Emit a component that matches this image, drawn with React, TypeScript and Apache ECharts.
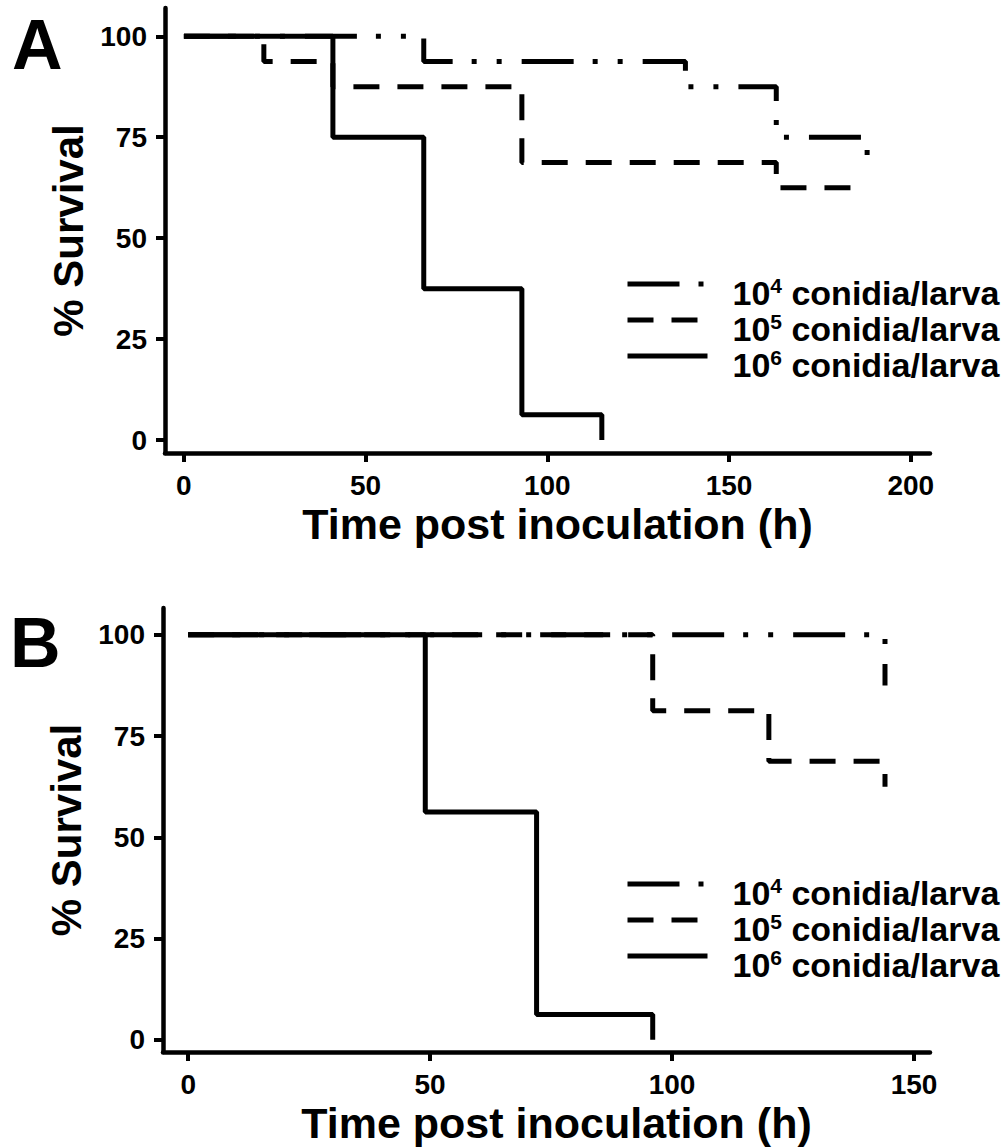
import React, { useEffect, useRef } from 'react';
import * as echarts from 'echarts';

const FONT = "'Liberation Sans', Arial, Helvetica, sans-serif";

// Tick values
const yTicks = [0, 25, 50, 75, 100];
const xTicksA = [0, 50, 100, 150, 200];
const xTicksB = [0, 50, 100, 150];

// Series names (dose groups)
const seriesNames = ['10^4 conidia/larva', '10^5 conidia/larva', '10^6 conidia/larva'];

// Panel A — Kaplan-Meier steps (time in h, % survival)
const timeA4 = [0, 66, 138, 163, 188];
const survA4 = [100, 93.75, 87.5, 75, 68.75];
const timeA5 = [0, 22, 41, 93, 163, 188];
const survA5 = [100, 93.75, 87.5, 68.75, 62.5, 62.5];
const timeA6 = [0, 41, 66, 93, 115];
const survA6 = [100, 75, 37.5, 6.25, 0];

// Panel B
const timeB4 = [0, 144];
const survB4 = [100, 87.5];
const timeB5 = [0, 96, 120, 144];
const survB5 = [100, 81.25, 68.75, 62.5];
const timeB6 = [0, 49, 72, 96];
const survB6 = [100, 56.25, 6.25, 0];

const lineTypes: any[] = [[52, 19, 5, 20, 5, 20], [26, 18], 'solid'];

const pairs = (t: number[], s: number[]) => t.map((v, i) => [v, s[i]]);

function makeAxisX(grid: number, min: number, max: number, ticks: number[]) {
  return {
    type: 'value',
    gridIndex: grid,
    min,
    max,
    name: 'Time post inoculation (h)',
    nameLocation: 'middle',
    nameGap: 49,
    nameTextStyle: { fontSize: 43, fontWeight: 'bold', color: '#000', fontFamily: FONT, padding: [0, 0, 0, 20] },
    axisLine: { show: true, onZero: false, lineStyle: { color: '#000', width: 4.5 } },
    axisTick: { show: true, customValues: ticks, length: 9, lineStyle: { color: '#000', width: 4 } },
    axisLabel: { customValues: ticks, fontSize: 28, fontWeight: 'bold', color: '#000', fontFamily: FONT, margin: 18 },
    splitLine: { show: false },
  };
}

function makeAxisY(grid: number, min: number, max: number) {
  return {
    type: 'value',
    gridIndex: grid,
    min,
    max,
    name: '% Survival',
    nameLocation: 'middle',
    nameGap: 74,
    nameTextStyle: { fontSize: 42, fontWeight: 'bold', color: '#000', fontFamily: FONT },
    axisLine: { show: true, onZero: false, lineStyle: { color: '#000', width: 4.5 } },
    axisTick: { show: true, customValues: yTicks, length: 9, lineStyle: { color: '#000', width: 4 } },
    axisLabel: { customValues: yTicks, fontSize: 28, fontWeight: 'bold', color: '#000', fontFamily: FONT, margin: 18 },
    splitLine: { show: false },
  };
}

function makeSeries(name: string, idx: number, data: number[][], type: any, z: number) {
  return {
    type: 'line',
    name,
    xAxisIndex: idx,
    yAxisIndex: idx,
    step: 'end',
    symbol: 'none',
    showSymbol: false,
    data,
    z,
    silent: true,
    color: '#000',
    itemStyle: { color: '#000' },
    lineStyle: { color: '#000', width: 5, type, cap: 'butt' },
    emphasis: { disabled: true },
  };
}

function makeLegend(top: number) {
  return {
    orient: 'vertical',
    left: 625,
    top,
    padding: 0,
    itemWidth: 80,
    itemHeight: 20,
    itemGap: 1,
    selectedMode: false,
    itemStyle: { opacity: 0 },
    data: seriesNames.map((n, i) => ({
      name: n,
      itemStyle: { opacity: 0 },
      lineStyle: { type: lineTypes[i], width: 5, color: '#000' },
    })),
    formatter: (name: string) => name.replace(/\^(\d)/, '{sup|$1}'),
    textStyle: {
      fontSize: 34,
      fontWeight: 'bold',
      color: '#000',
      fontFamily: FONT,
      padding: [18, 0, 0, 20],
      rich: {
        sup: { fontSize: 21, fontWeight: 'bold', color: '#000', fontFamily: FONT, padding: [0, 0, 15, 0] },
      },
    },
  };
}

export default function App() {
  const ref = useRef<HTMLDivElement>(null);
  useEffect(() => {
    if (!ref.current) return;
    const chart = echarts.init(ref.current, undefined, { renderer: 'svg' });
    const option: any = {
      animation: false,
      backgroundColor: '#fff',
      grid: [
        { left: 165, top: 8, width: 765, height: 445 },
        { left: 163, top: 608, width: 767, height: 444 },
      ],
      xAxis: [makeAxisX(0, -5.2, 205.3, xTicksA), makeAxisX(1, -5.2, 153.3, xTicksB)],
      yAxis: [makeAxisY(0, -3.2, 107), makeAxisY(1, -3.0, 106.6)],
      legend: [makeLegend(275), makeLegend(875)],
      series: [
        makeSeries(seriesNames[0], 0, pairs(timeA4, survA4), lineTypes[0], 2),
        makeSeries(seriesNames[1], 0, pairs(timeA5, survA5), lineTypes[1], 3),
        makeSeries(seriesNames[2], 0, pairs(timeA6, survA6), lineTypes[2], 4),
        makeSeries(seriesNames[0], 1, pairs(timeB4, survB4), lineTypes[0], 2),
        makeSeries(seriesNames[1], 1, pairs(timeB5, survB5), lineTypes[1], 3),
        makeSeries(seriesNames[2], 1, pairs(timeB6, survB6), lineTypes[2], 4),
      ],
      graphic: [
        { type: 'text', left: 12, top: 10, style: { text: 'A', font: `bold 70px ${FONT}`, fill: '#000' } },
        { type: 'text', left: 10, top: 608, style: { text: 'B', font: `bold 70px ${FONT}`, fill: '#000' } },
      ],
    };
    chart.setOption(option);
    return () => chart.dispose();
  }, []);
  return <div ref={ref} style={{ position: 'absolute', left: 0, top: 0, width: 1007, height: 1148 }} />;
}
